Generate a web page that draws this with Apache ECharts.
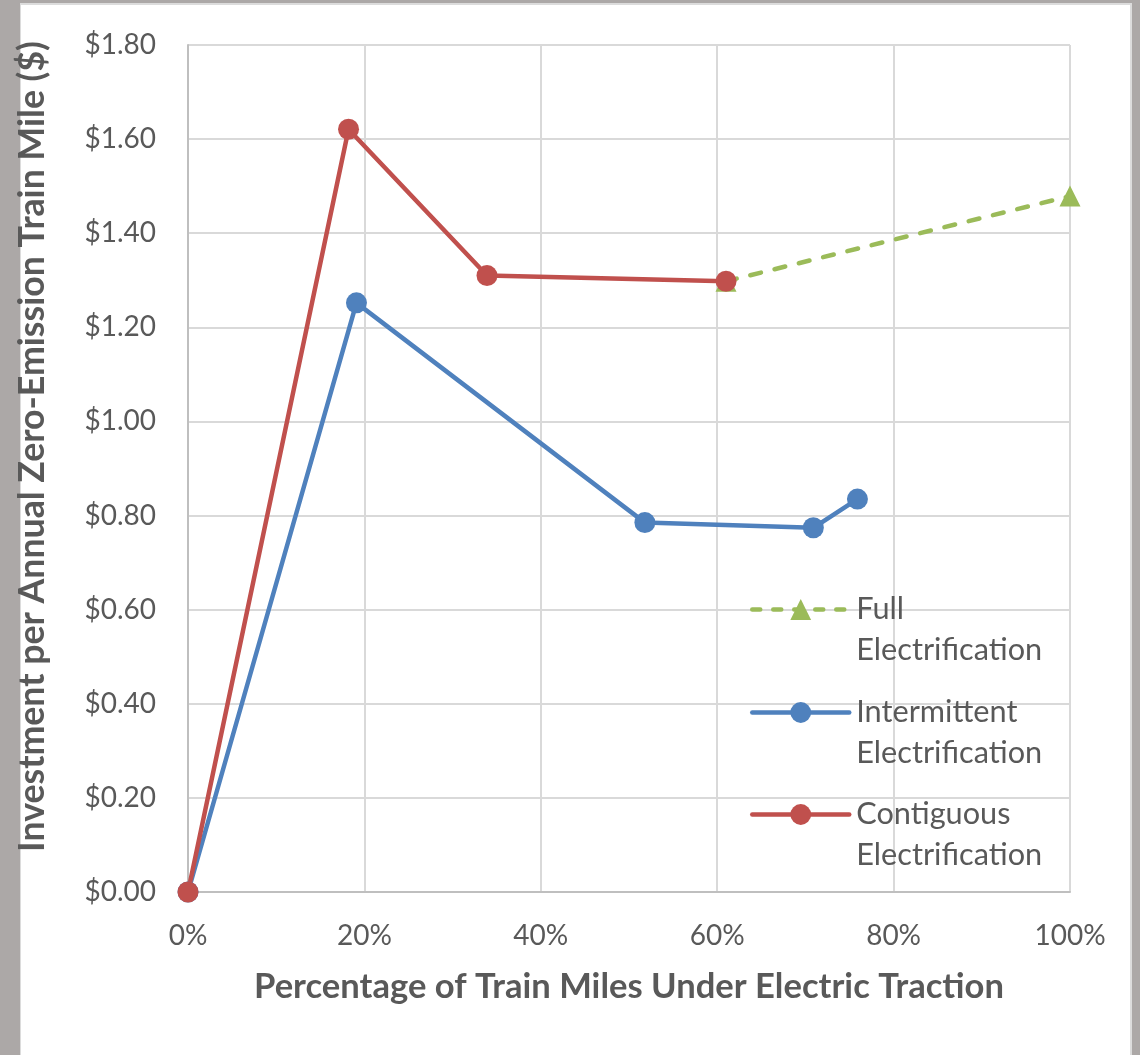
<!DOCTYPE html>
<html>
<head>
<meta charset="utf-8">
<script src="https://cdn.jsdelivr.net/npm/echarts@6/dist/echarts.min.js"></script>
<style>
  html, body { margin: 0; padding: 0; width: 1140px; height: 1055px; background: #aca8a7; overflow: hidden; }
  #panel { position: absolute; left: 20px; top: 3px; width: 1109px; height: 1052px; background: #ffffff;
           border-top: 2px solid #dcdcdc; border-right: 2px solid #dcdcdc; border-left: 1px solid #dcdcdc; }
  #chart { position: absolute; left: 0; top: 0; width: 1140px; height: 1055px; }
</style>
</head>
<body>
<div id="panel"></div>
<div id="chart"></div>
<script>
// Share of train miles under electric traction (fraction) and investment per annual zero-emission train mile ($)
const fullX = [0.61, 1.00];
const fullY = [1.298, 1.479];

const intermittentX = [0, 0.191, 0.518, 0.709, 0.759];
const intermittentY = [0, 1.252, 0.785, 0.774, 0.835];

const contiguousX = [0, 0.182, 0.339, 0.610];
const contiguousY = [0, 1.621, 1.310, 1.298];

const seriesNames = ['Full Electrification', 'Intermittent Electrification', 'Contiguous Electrification'];

const xTitle = 'Percentage of Train Miles Under Electric Traction';
const yTitle = 'Investment per Annual Zero-Emission Train Mile ($)';

const FONT = 'Lato';
const TEXT = '#595959';
const COLORS = { full: '#9bbb59', intermittent: '#4f81bd', contiguous: '#c0504d' };
const LINE_W = 4.5;

function pairs(xs, ys) { return xs.map((x, i) => [x, ys[i]]); }

// Each legend entry is its own block; the leading blank line keeps the
// first word level with the legend symbol.
const legendTops = [548, 651, 753];
const legendLines = [
  { color: COLORS.full, width: LINE_W, type: [8, 13], cap: 'round' },
  { color: COLORS.intermittent, width: LINE_W, cap: 'round' },
  { color: COLORS.contiguous, width: LINE_W, cap: 'round' }
];
const legends = seriesNames.map((name, i) => ({
  data: [name],
  left: 750,
  top: legendTops[i],
  orient: 'vertical',
  padding: 0,
  itemWidth: 97,
  itemHeight: 26,
  selectedMode: false,
  lineStyle: legendLines[i],
  formatter: n => '\n' + n.split(' ').map(w => '{t|' + w + '}').join('\n'),
  textStyle: {
    fontFamily: FONT, fontSize: 31, lineHeight: 41, color: TEXT,
    rich: { t: { fontFamily: FONT, fontSize: 30.7, lineHeight: 41, color: TEXT, padding: [0, 0, 0, 2] } }
  }
}));

const chart = echarts.init(document.getElementById('chart'), null, { renderer: 'canvas' });
chart.setOption({
  backgroundColor: 'transparent',
  animation: false,
  grid: { left: 188, right: 70, top: 45, bottom: 163, containLabel: false },
  legend: legends,
  xAxis: {
    type: 'value', min: 0, max: 1, interval: 0.2,
    name: xTitle, nameLocation: 'middle', nameGap: 77,
    nameTextStyle: { fontFamily: FONT, fontWeight: 'bold', fontSize: 34.6, color: TEXT },
    axisLine: { show: true, lineStyle: { color: '#bfbfbf', width: 2 } },
    axisTick: { show: false },
    splitLine: { show: true, lineStyle: { color: '#d9d9d9', width: 2 } },
    axisLabel: { fontFamily: FONT, fontSize: 28, color: TEXT, margin: 30,
                 formatter: v => Math.round(v * 100) + '%' }
  },
  yAxis: {
    type: 'value', min: 0, max: 1.8, interval: 0.2,
    name: yTitle, nameLocation: 'middle', nameGap: 138,
    nameTextStyle: { fontFamily: FONT, fontWeight: 'bold', fontSize: 35.7, color: TEXT, padding: [0, 0, 0, 44] },
    axisLine: { show: true, lineStyle: { color: '#bfbfbf', width: 2 } },
    axisTick: { show: false },
    splitLine: { show: true, lineStyle: { color: '#d9d9d9', width: 2 } },
    axisLabel: { fontFamily: FONT, fontSize: 28, color: TEXT, margin: 32,
                 formatter: v => '$' + v.toFixed(2) }
  },
  series: [
    {
      name: seriesNames[0], type: 'line', data: pairs(fullX, fullY),
      symbol: 'triangle', symbolSize: 21,
      itemStyle: { color: COLORS.full },
      lineStyle: { color: COLORS.full, width: LINE_W, type: [11, 14], cap: 'round' }
    },
    {
      name: seriesNames[1], type: 'line', data: pairs(intermittentX, intermittentY),
      symbol: 'circle', symbolSize: 21,
      itemStyle: { color: COLORS.intermittent },
      lineStyle: { color: COLORS.intermittent, width: LINE_W }
    },
    {
      name: seriesNames[2], type: 'line', data: pairs(contiguousX, contiguousY),
      symbol: 'circle', symbolSize: 21,
      itemStyle: { color: COLORS.contiguous },
      lineStyle: { color: COLORS.contiguous, width: LINE_W }
    }
  ]
});
</script>
</body>
</html>
